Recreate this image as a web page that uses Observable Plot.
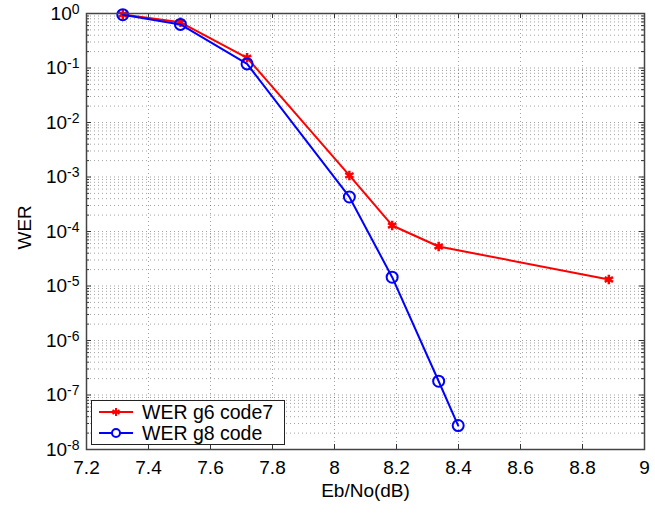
<!DOCTYPE html>
<html><head><meta charset="utf-8">
<script src="https://cdn.jsdelivr.net/npm/d3@7"></script>
<script src="https://cdn.jsdelivr.net/npm/@observablehq/plot@0.6"></script>
<style>
body{margin:0;background:#fff;font-family:"Liberation Sans",Arial,Helvetica,sans-serif;}
#wrap{position:relative;width:655px;height:514px;}
.legend{position:absolute;left:91px;top:400px;width:194px;height:45px;border:1px solid #222;background:#fff;box-sizing:border-box;font-size:19.5px;color:#000;}
.legend .row{position:absolute;left:6px;height:20px;display:flex;align-items:center;}
.legend svg{display:block;margin-right:8px;}
</style></head><body><div id="wrap"></div>
<script>
const seriesNames = ["WER g6 code7", "WER g8 code"];
const seriesColors = ["#ff0000", "#0000ff"];
const ebnoG6 = [7.317, 7.503, 7.718, 8.048, 8.186, 8.336, 8.885];
const werG6  = [0.96, 0.69, 0.154, 1.07e-3, 1.29e-4, 5.3e-5, 1.32e-5];
const ebnoG8 = [7.317, 7.503, 7.718, 8.048, 8.186, 8.336, 8.399];
const werG8  = [0.95, 0.63, 0.119, 4.3e-4, 1.45e-5, 1.79e-7, 2.75e-8];
const xTicks = [7.2, 7.4, 7.6, 7.8, 8.0, 8.2, 8.4, 8.6, 8.8, 9.0];
const xTickLabels = ["7.2", "7.4", "7.6", "7.8", "8", "8.2", "8.4", "8.6", "8.8", "9"];
const yExponents = [0, -1, -2, -3, -4, -5, -6, -7, -8];
const xLabel = "Eb/No(dB)";
const yLabel = "WER";

const g6 = ebnoG6.map((x, i) => ({x, y: werG6[i]}));
const g8 = ebnoG8.map((x, i) => ({x, y: werG8[i]}));
const yMajor = yExponents.map(e => Math.pow(10, e));
const yMinor = [];
for (const e of yExponents) if (e < 0) for (let m = 2; m <= 9; m++) yMinor.push(m * Math.pow(10, e));

const W = 655, H = 514, mL = 86, mR = 11, mT = 13, mB = 65;
const fh = H - mT - mB, fw = W - mL - mR;
const gridStyle = {stroke: "#555", strokeOpacity: 0.55, strokeDasharray: "1,3", strokeWidth: 1};
const tickStyle = {stroke: "#333", strokeWidth: 1};
const fmtX = d => xTickLabels[xTicks.findIndex(t => Math.abs(t - d) < 1e-9)];
const fmtY = d => "10^" + Math.round(Math.log10(d));

const chart = Plot.plot({
  width: W, height: H,
  marginLeft: mL, marginRight: mR, marginTop: mT, marginBottom: mB,
  style: {fontFamily: '"Liberation Sans", Arial, sans-serif', fontSize: "19px", color: "#000", background: "#fff"},
  x: {domain: [7.2, 9], ticks: xTicks, tickFormat: fmtX, label: null},
  y: {type: "log", domain: [1e-8, 1], ticks: yMajor, tickFormat: fmtY, label: null},
  marks: [
    Plot.ruleX(xTicks.slice(1, -1), gridStyle),
    Plot.ruleY(yMajor.slice(1, -1), gridStyle),
    Plot.ruleY(yMinor, gridStyle),
    Plot.tickX(xTicks, {...tickStyle, insetBottom: fh - 5}),
    Plot.tickX(xTicks, {...tickStyle, insetTop: fh - 5}),
    Plot.tickY(yMajor, {...tickStyle, insetRight: fw - 5}),
    Plot.tickY(yMajor, {...tickStyle, insetLeft: fw - 5}),
    Plot.tickY(yMinor, {...tickStyle, insetRight: fw - 3}),
    Plot.tickY(yMinor, {...tickStyle, insetLeft: fw - 3}),
    Plot.axisX({ticks: xTicks, tickSize: 0, tickPadding: 11, tickFormat: fmtX, fontSize: 19, label: null}),
    Plot.axisY({ticks: yMajor, tickSize: 0, tickPadding: 7, tickFormat: fmtY, fontSize: 19, label: null}),
    Plot.line(g6, {x: "x", y: "y", stroke: seriesColors[0], strokeWidth: 2}),
    Plot.dot(g6, {x: "x", y: "y", symbol: "asterisk", r: 4.5, stroke: seriesColors[0], strokeWidth: 2.5}),
    Plot.line(g8, {x: "x", y: "y", stroke: seriesColors[1], strokeWidth: 2}),
    Plot.dot(g8, {x: "x", y: "y", r: 5.5, stroke: seriesColors[1], fill: "none", strokeWidth: 2}),
    Plot.frame({stroke: "#444", strokeWidth: 1.5}),
    Plot.text([xLabel], {frameAnchor: "bottom", dy: 47, fontSize: 19, fill: "#000"}),
    Plot.text([yLabel], {frameAnchor: "left", dx: -62, dy: 18, rotate: -90, fontSize: 19, fill: "#000"})
  ]
});

d3.select(chart).selectAll("text").each(function() {
  const m = /^10\^(-?\d+)$/.exec(this.textContent);
  if (!m) return;
  const el = d3.select(this);
  el.text(null);
  el.append("tspan").text("10");
  el.append("tspan").attr("dy", "-0.4em").attr("font-size", "14px").text(m[1]);
});

const wrap = document.getElementById("wrap");
wrap.appendChild(chart);

const legend = document.createElement("div");
legend.className = "legend";
const icons = [
  `<svg width="36" height="20"><line x1="1" y1="10" x2="35" y2="10" stroke="${seriesColors[0]}" stroke-width="2"/><g stroke="${seriesColors[0]}" stroke-width="2"><line x1="18" y1="6" x2="18" y2="14"/><line x1="14.5" y1="8" x2="21.5" y2="12"/><line x1="14.5" y1="12" x2="21.5" y2="8"/></g></svg>`,
  `<svg width="36" height="20"><line x1="1" y1="10" x2="35" y2="10" stroke="${seriesColors[1]}" stroke-width="2"/><circle cx="18" cy="10" r="4" fill="#fff" stroke="${seriesColors[1]}" stroke-width="2"/></svg>`
];
seriesNames.forEach((name, i) => {
  const row = document.createElement("div");
  row.className = "row";
  row.style.top = (i === 0 ? 1 : 22) + "px";
  row.innerHTML = icons[i] + `<span>${name}</span>`;
  legend.appendChild(row);
});
wrap.appendChild(legend);
</script>
</body></html>
